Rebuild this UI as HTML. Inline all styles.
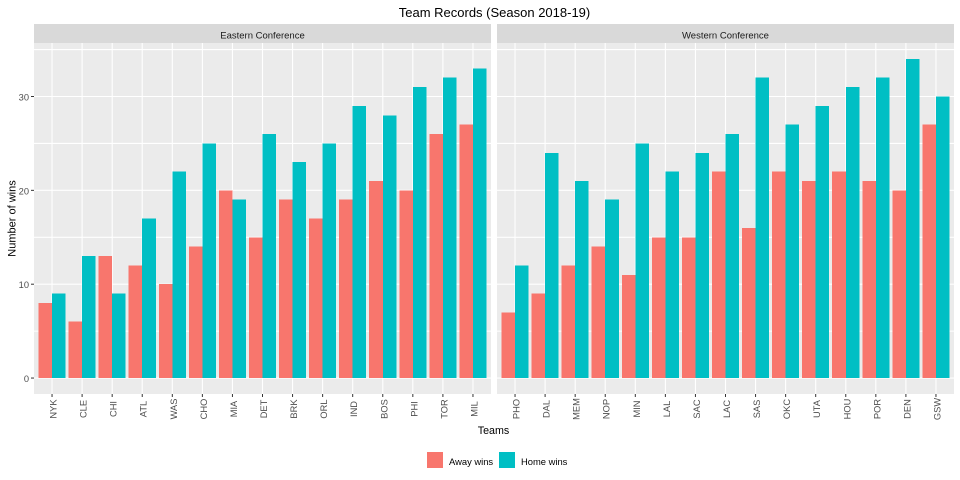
<!DOCTYPE html>
<html lang="en">
<head>
<meta charset="utf-8">
<title>Team Records (Season 2018-19)</title>
<style>
html,body{margin:0;padding:0;background:#fff;}
svg{display:block;font-family:"Liberation Sans",Arial,sans-serif;}
</style>
</head>
<body>
<svg id="chart" width="960" height="480" viewBox="0 0 960 480" xmlns="http://www.w3.org/2000/svg">
<rect x="0" y="0" width="960" height="480" fill="#ffffff"/>
<text x="494.5" y="17" font-size="13" text-anchor="middle" fill="#000">Team Records (Season 2018-19)</text>
<text transform="translate(15.5,218.5) rotate(-90)" font-size="11" text-anchor="middle" fill="#000">Number of wins</text>
<text x="493.5" y="434" font-size="10.7" text-anchor="middle" fill="#000">Teams</text>
<g id="panels"></g>
<g>
<rect x="427" y="452" width="16" height="16" fill="#F8766D" shape-rendering="crispEdges"/>
<text x="449" y="465" font-size="9.4" fill="#000">Away wins</text>
<rect x="499" y="452" width="16" height="16" fill="#00BFC4" shape-rendering="crispEdges"/>
<text x="521" y="465" font-size="9.4" fill="#000">Home wins</text>
</g>
</svg>
<script>
const easternTeams = ["NYK","CLE","CHI","ATL","WAS","CHO","MIA","DET","BRK","ORL","IND","BOS","PHI","TOR","MIL"];
const easternAway = [8,6,13,12,10,14,20,15,19,17,19,21,20,26,27];
const easternHome = [9,13,9,17,22,25,19,26,23,25,29,28,31,32,33];
const westernTeams = ["PHO","DAL","MEM","NOP","MIN","LAL","SAC","LAC","SAS","OKC","UTA","HOU","POR","DEN","GSW"];
const westernAway = [7,9,12,14,11,15,15,22,16,22,21,22,21,20,27];
const westernHome = [12,24,21,19,25,22,24,26,32,27,29,31,32,34,30];
const yTickLabels = [0,10,20,30];
const yGridValues = [0,5,10,15,20,25,30,35];
const easternTitle = "Eastern Conference";
const westernTitle = "Western Conference";

const SVG_NS = "http://www.w3.org/2000/svg";
const panelTop = 43, panelBottom = 394, stripTop = 24;
const panelsGroup = document.getElementById("panels");

function make(parent, tag) {
  const el = document.createElementNS(SVG_NS, tag);
  parent.appendChild(el);
  return el;
}

const yLimit = Math.max.apply(null, easternAway.concat(easternHome, westernAway, westernHome, [0]));
const yExpand = yLimit * 0.05;
function yScale(v) {
  return panelBottom - (v + yExpand) / (yLimit + 2 * yExpand) * (panelBottom - panelTop);
}

function renderPanel(left, right, key, title, teams, away, home, showYAxis) {
  const unit = (right - left) / (teams.length - 1 + 1.2);
  const xScale = function (i) { return left + (0.6 + i) * unit; };
  const barWidth = 0.45 * unit;

  const g = make(panelsGroup, "g");
  
  

  const strip = make(g, "rect");
  
  
  strip.setAttribute("x", left);
  strip.setAttribute("y", stripTop);
  strip.setAttribute("width", right - left);
  strip.setAttribute("height", panelTop - stripTop);
  strip.setAttribute("fill", "#D9D9D9");

  const stripLabel = make(g, "text");
  
  
  stripLabel.setAttribute("x", (left + right) / 2);
  stripLabel.setAttribute("y", 38.5);
  stripLabel.setAttribute("font-size", "9.5");
  stripLabel.setAttribute("text-anchor", "middle");
  stripLabel.setAttribute("fill", "#1A1A1A");
  stripLabel.textContent = title;

  const bg = make(g, "rect");
  
  
  bg.setAttribute("x", left);
  bg.setAttribute("y", panelTop);
  bg.setAttribute("width", right - left);
  bg.setAttribute("height", panelBottom - panelTop);
  bg.setAttribute("fill", "#EBEBEB");

  yGridValues.forEach(function (v) {
    const line = make(g, "line");
    
    
    line.setAttribute("x1", left);
    line.setAttribute("x2", right);
    line.setAttribute("y1", yScale(v));
    line.setAttribute("y2", yScale(v));
    line.setAttribute("stroke", "#fff");
    line.setAttribute("stroke-width", "1.1");
  });

  teams.forEach(function (team, i) {
    const line = make(g, "line");
    
    
    line.setAttribute("x1", xScale(i));
    line.setAttribute("x2", xScale(i));
    line.setAttribute("y1", panelTop);
    line.setAttribute("y2", panelBottom);
    line.setAttribute("stroke", "#fff");
    line.setAttribute("stroke-width", "1.1");
  });

  teams.forEach(function (team, i) {
    const awayBar = make(g, "rect");
    
    
    awayBar.setAttribute("x", xScale(i) - barWidth);
    awayBar.setAttribute("y", yScale(away[i]));
    awayBar.setAttribute("width", barWidth);
    awayBar.setAttribute("height", yScale(0) - yScale(away[i]));
    awayBar.setAttribute("fill", "#F8766D");
    awayBar.setAttribute("shape-rendering", "crispEdges");

    const homeBar = make(g, "rect");
    
    
    homeBar.setAttribute("x", xScale(i));
    homeBar.setAttribute("y", yScale(home[i]));
    homeBar.setAttribute("width", barWidth);
    homeBar.setAttribute("height", yScale(0) - yScale(home[i]));
    homeBar.setAttribute("fill", "#00BFC4");
    homeBar.setAttribute("shape-rendering", "crispEdges");

    const tick = make(g, "line");
    
    
    tick.setAttribute("x1", xScale(i));
    tick.setAttribute("x2", xScale(i));
    tick.setAttribute("y1", panelBottom);
    tick.setAttribute("y2", panelBottom + 3);
    tick.setAttribute("stroke", "#333");
    tick.setAttribute("stroke-width", "1");

    const label = make(g, "text");
    
    
    label.setAttribute("transform", "translate(" + (xScale(i) + 4.5) + ",409) rotate(-90)");
    label.setAttribute("font-size", "9.3");
    label.setAttribute("text-anchor", "middle");
    label.setAttribute("fill", "#4D4D4D");
    label.textContent = team;
  });

  if (showYAxis) {
    yTickLabels.forEach(function (v) {
      const tick = make(g, "line");
      
      
      tick.setAttribute("x1", left - 3);
      tick.setAttribute("x2", left);
      tick.setAttribute("y1", yScale(v));
      tick.setAttribute("y2", yScale(v));
      tick.setAttribute("stroke", "#333");
      tick.setAttribute("stroke-width", "1");

      const label = make(g, "text");
      
      
      label.setAttribute("x", left - 5);
      label.setAttribute("y", yScale(v) + 4);
      label.setAttribute("font-size", "9.3");
      label.setAttribute("text-anchor", "end");
      label.setAttribute("fill", "#4D4D4D");
      label.textContent = v;
    });
  }
}

renderPanel(34, 491, "eastern", easternTitle, easternTeams, easternAway, easternHome, true);
renderPanel(497, 954, "western", westernTitle, westernTeams, westernAway, westernHome, false);
</script>
</body>
</html>
